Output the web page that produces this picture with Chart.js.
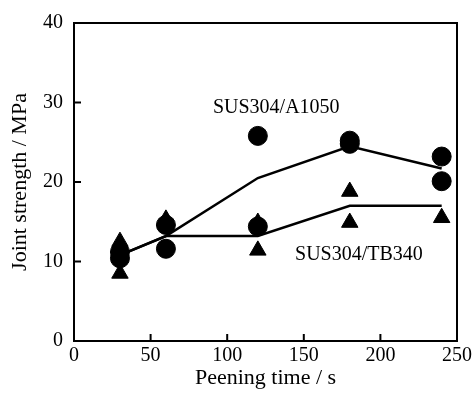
<!DOCTYPE html>
<html>
<head>
<meta charset="utf-8">
<script src="https://cdn.jsdelivr.net/npm/chart.js@4.4.1/dist/chart.umd.min.js"></script>
<style>
  html, body { margin: 0; padding: 0; background: #fff; }
  #wrap { width: 475px; height: 402px; }
</style>
</head>
<body>
<div id="wrap"><canvas id="strengthChart"></canvas></div>
<script>
// measured joint strength (MPa) vs peening time (s)
const a1050Time = [30, 30, 60, 60, 120, 120, 180, 180, 240, 240];
const a1050Strength = [11.2, 10.4, 14.6, 11.6, 25.8, 14.4, 25.2, 24.8, 23.2, 20.1];
const tb340Time = [30, 30, 60, 120, 120, 180, 180, 240];
const tb340Strength = [12.5, 8.5, 15.3, 14.9, 11.4, 18.8, 14.9, 15.5];

// trend lines
const fitTime = [30, 60, 120, 180, 240];
const a1050Fit = [10.8, 13.2, 20.5, 24.5, 21.7];
const tb340Fit = [10.8, 13.2, 13.2, 17.0, 17.0];

const xTicks = [0, 50, 100, 150, 200, 250];
const yTicks = [0, 10, 20, 30, 40];

const labels = [
  { text: "SUS304/A1050", x: 132, y: 29.3 },
  { text: "SUS304/TB340", x: 186, y: 10.8 },
];

const FONT = "'Liberation Serif', 'Times New Roman', serif";

function toPoints(xs, ys) {
  return xs.map((x, i) => ({ x: x, y: ys[i] }));
}

// frame, inward ticks and the two series labels
const framePlugin = {
  id: "frame",
  afterDraw(chart) {
    const { ctx, chartArea } = chart;
    const xs = chart.scales.x;
    const ys = chart.scales.y;
    ctx.save();
    ctx.strokeStyle = "#000";
    ctx.lineWidth = 2;
    ctx.strokeRect(chartArea.left, chartArea.top,
      chartArea.right - chartArea.left, chartArea.bottom - chartArea.top);

    ctx.beginPath();
    xTicks.forEach((v) => {
      const px = xs.getPixelForValue(v);
      ctx.moveTo(px, chartArea.bottom);
      ctx.lineTo(px, chartArea.bottom - 7);
    });
    yTicks.forEach((v) => {
      const py = ys.getPixelForValue(v);
      ctx.moveTo(chartArea.left, py);
      ctx.lineTo(chartArea.left + 7, py);
    });
    ctx.stroke();

    ctx.fillStyle = "#000";
    ctx.font = "20px " + FONT;
    ctx.textAlign = "center";
    ctx.textBaseline = "middle";
    labels.forEach((l) => {
      ctx.fillText(l.text, xs.getPixelForValue(l.x), ys.getPixelForValue(l.y));
    });
    ctx.restore();
  },
};

const ctx = document.getElementById("strengthChart").getContext("2d");

new Chart(ctx, {
  type: "scatter",
  data: {
    datasets: [
      {
        label: "SUS304/A1050",
        data: toPoints(a1050Time, a1050Strength),
        pointStyle: "circle",
        pointRadius: 9.5,
        backgroundColor: "#000",
        borderColor: "#000",
        borderWidth: 1,
      },
      {
        label: "SUS304/TB340",
        data: toPoints(tb340Time, tb340Strength),
        pointStyle: "triangle",
        pointRadius: 9.5,
        backgroundColor: "#000",
        borderColor: "#000",
        borderWidth: 1,
      },
      {
        label: "A1050 trend",
        type: "line",
        data: toPoints(fitTime, a1050Fit),
        showLine: true,
        borderColor: "#000",
        borderWidth: 2.5,
        pointRadius: 0,
        fill: false,
      },
      {
        label: "TB340 trend",
        type: "line",
        data: toPoints(fitTime, tb340Fit),
        showLine: true,
        borderColor: "#000",
        borderWidth: 2.5,
        pointRadius: 0,
        fill: false,
      },
    ],
  },
  options: {
    responsive: true,
    maintainAspectRatio: false,
    animation: false,
    layout: { padding: { left: 0, right: 16, top: 20, bottom: 0 } },
    plugins: {
      legend: { display: false },
      tooltip: { enabled: false },
    },
    scales: {
      x: {
        type: "linear",
        min: 0,
        max: 250,
        afterBuildTicks: (scale) => {
          scale.ticks = xTicks.map((v) => ({ value: v }));
        },
        afterFit: (scale) => {
          scale.height = 61;
        },
        grid: { display: false, drawTicks: false },
        border: { display: false },
        ticks: {
          color: "#000",
          padding: 3,
          maxRotation: 0,
          font: { family: FONT, size: 20 },
        },
        title: {
          display: true,
          text: "Peening time / s",
          color: "#000",
          font: { family: FONT, size: 22 },
          padding: { top: 0, bottom: 11 },
        },
      },
      y: {
        type: "linear",
        min: 0,
        max: 40,
        afterBuildTicks: (scale) => {
          scale.ticks = yTicks.map((v) => ({ value: v }));
        },
        afterFit: (scale) => {
          scale.width = 74;
        },
        grid: { display: false, drawTicks: false },
        border: { display: false },
        ticks: {
          color: "#000",
          padding: 11,
          font: { family: FONT, size: 20 },
        },
        title: {
          display: true,
          text: "Joint strength / MPa",
          color: "#000",
          font: { family: FONT, size: 22 },
          padding: { top: 7, bottom: 0 },
        },
      },
    },
  },
  plugins: [framePlugin],
});
</script>
</body>
</html>
